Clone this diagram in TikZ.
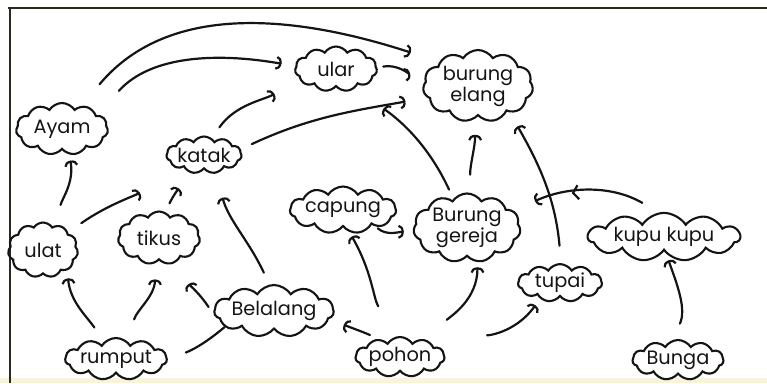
\documentclass[tikz,border=0pt]{standalone}
\usepackage{fontspec}
\setmainfont{Poppins}
\usepackage{xcolor}
\usetikzlibrary{positioning,arrows.meta,shapes.symbols,decorations.markings}
\definecolor{WInk}{HTML}{141414}
\definecolor{WFrame}{HTML}{2A2B20}
\definecolor{WTint}{HTML}{F8F4DC}

\begin{document}
\begin{tikzpicture}[x=0.02cm, y=0.02cm, every node/.style={align=center},
  animal/.style={cloud, cloud puffs=11, cloud puff arc=115, cloud ignores aspect,
    draw=WInk, line width=1.2pt, inner sep=0pt, text=WInk,
    font=\fontsize{11}{12}\selectfont},
  eats/.style={-{Arc Barb[length=3pt,width=8pt]}, draw=WInk, line width=1.25pt,
    line cap=round}]
\useasboundingbox (0,0) rectangle (767,383);
% paper and frame
\fill[WTint] (0,0) rectangle (767,5);
\draw[WFrame, line width=1.1pt] (8,375) -- (767,375);
\draw[WFrame, line width=1.1pt] (10,375) -- (10,0);
% animals and plants
\foreach \nm/\x/\y/\w/\h/\txt in {%
  ayam/62/254/18.4/10.4/{Ayam},
  ulat/43/133/14/11/{ulat},
  tikus/159/145/16.4/10.6/{tikus},
  katak/204/228/15/7.4/{katak},
  ular/336/314/16.4/9/{ular},
  elang/478/297/22/14.4/{burung\\elang},
  capung/343/173/18.6/9.4/{capung},
  gereja/467/155/21.4/13/{Burung\\gereja},
  belalang/274/72/21.6/10.4/{Belalang},
  rumput/116/24/19/8.4/{rumput},
  pohon/400/26/17/8/{pohon},
  tupai/560/100/16.8/7/{tupai},
  kupu/664/146/30.4/9.4/{kupu kupu},
  bunga/678/23/18.2/8/{Bunga}}{
  \node[animal, minimum width=\w mm, minimum height=\h mm] (\nm) at (\x,\y) {\txt};
}
% who eats whom
\foreach \a/\b/\o/\i/\s/\t in {%
  ayam.50/elang.148/50/162/5.6/6,
  ayam.22/ular.176/48/170/6.4/2.8,
  katak.65/ular.196/55/210/2.6/5.8,
  katak.9/elang.193/25/190/2.4/4.4,
  ular.2/elang.161/10/194/1.2/3.8,
  ulat.64/ayam.-74/75/-80/4.2/1.2,
  ulat.35/katak.204/35/215/3.2/8.6,
  tikus.76/katak.231/65/235/1.9/3.8,
  belalang.100/katak.-57/115/-75/2.6/5,
  rumput.124/ulat.-40/125/-85/3.4/1.6,
  rumput.55/tikus.-99/75/-90/4.6/3.2,
  belalang.185/tikus.-57/123/-57/2.2/5,
  pohon.139/belalang.-8/157/-23/2/3,
  pohon.102/capung.-74/120/-60/7/1,
  capung.-27/gereja.184/-40/180/0.5/1.8,
  pohon.37/gereja.-73/40/-90/6/1,
  pohon.8/tupai.218/20/235/9.2/1.6,
  bunga.106/kupu.-83/65/-70/3.6/1.4,
  tupai.87/elang.-40/95/-60/3.5/3.2,
  gereja.85/elang.-95/90/-90/3.6/3.2,
  gereja.115/ular.-46/115/-35/2/7}{
  \draw[eats, shorten <=\s mm, shorten >=\t mm] (\a) to[out=\o,in=\i] (\b);
}
% grass line without a head, butterfly line with a second head
\draw[WInk, line width=1.25pt, line cap=round, shorten <=3.8mm]
  (rumput.0) to[out=20,in=220] (belalang.198);
\draw[eats, shorten <=3.8mm, shorten >=4.6mm,
  postaction={decorate, decoration={markings,
    mark=at position 0.6 with {\arrow{Straight Barb[length=3pt,width=8pt]}}}}]
  (kupu.102) to[out=150,in=25] (gereja.20);
\end{tikzpicture}
\end{document}
